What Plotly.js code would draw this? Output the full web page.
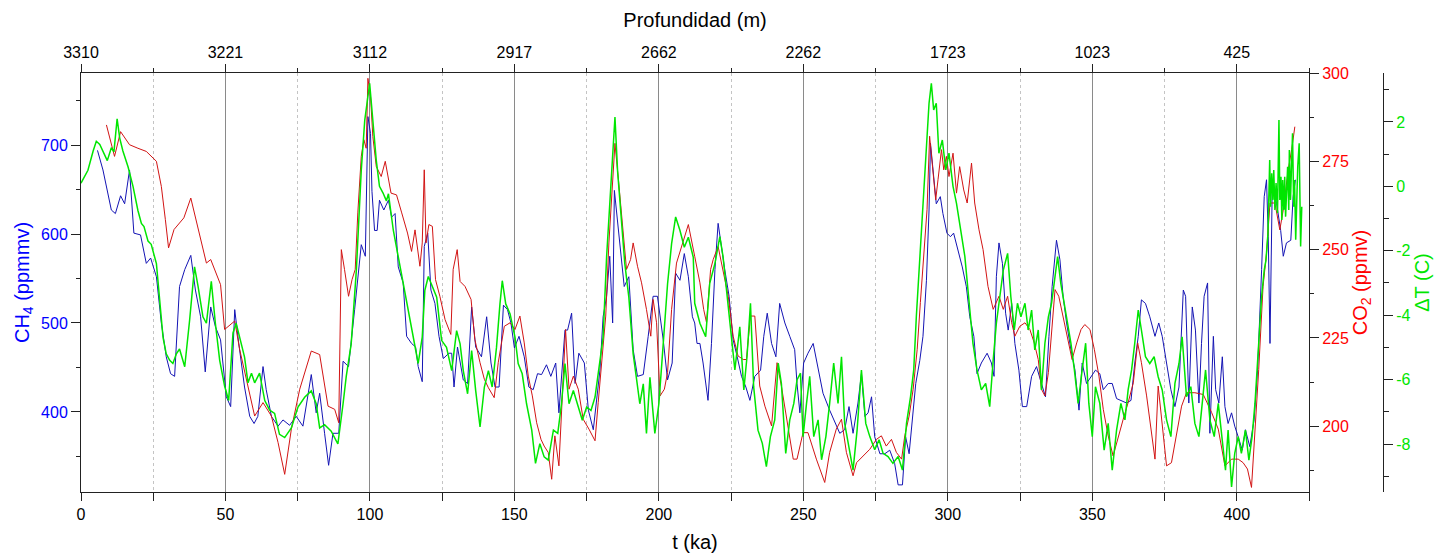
<!DOCTYPE html>
<html>
<head>
<meta charset="utf-8">
<script src="https://cdn.plot.ly/plotly-3.0.1.min.js"></script>
<style>html,body{margin:0;padding:0;background:#fff;}#chart{width:1436px;height:559px;}</style>
</head>
<body>
<div id="chart"></div>
<script>
// ---- Data ----
const ch4_t = [5.7,7.6,10.5,11.9,13.7,15.1,16.8,18.3,20.6,22.6,24.1,26.1,27.8,29.5,31,32.4,34.1,35.9,38,39.6,41.4,43,44.9,46.5,48.3,50.3,51.8,53.2,54.6,56.6,58.4,59.9,61.2,63,64.1,65.9,68.2,69.9,72.2,74.5,76.8,79.7,81.4,82.6,84.3,85.7,87.2,89.2,90.7,92.6,94.7,97,98.4,99.3,100.2,100.7,101.6,102.5,103.3,104.8,106.4,107.5,108.7,109.8,111.5,112.7,114.4,115.8,116.7,118.1,118.8,120,121.1,122.5,123.9,125.4,127.3,128.3,129.1,130.3,132.3,133.8,135.2,136.6,138.6,140.4,141.9,143.3,144.7,146.2,147.6,148.8,150,151.6,153.4,155,156.5,158,159.4,161.1,162.6,164.3,165.4,167.5,168.4,169.8,171,172.3,174.2,175.6,177.3,178.4,179.6,180.7,181.9,183,184,184.6,185.7,187.1,188,189.6,191.1,192.6,194.6,196.3,198,199.5,201.5,203,204.6,205.8,207.3,208.8,210.2,211.6,212.4,213.2,214.2,215.3,217,218.2,219.4,220.5,221.7,222.8,224.3,225.7,227.1,228.6,230.1,231.5,233.2,235.2,236.3,237.5,239,240.5,241.8,243.6,245.3,247,247.8,248.8,250.1,251.6,253.4,255.1,256.8,259.1,261.2,262.6,264.3,265.8,267.2,268.9,270.1,271.3,272.4,273.6,274.7,276.5,278.2,279.9,281.6,282.8,284.3,285.4,286.6,287.7,288.9,290.3,291.4,292.6,293.5,294,294.9,296,297.4,298.3,299.7,300.9,302,303.5,305,306.4,307.6,309,310.1,311.6,313.6,315.1,316,316.8,317.7,318.9,320,320.9,322.1,323.2,324.6,325.8,327.3,329,330.7,332.4,333.8,335,336.1,337.6,338.8,339.9,341.1,342.6,344,345.4,346.5,348,349.7,351.1,352.6,353.8,355.5,356.9,358.4,360.1,361.9,363.4,364.7,365.9,367,368.4,369.9,371.7,373,374.2,375.7,377.2,378.6,380,381.5,382.3,383.4,384.6,385.7,386.9,387.8,388.7,389.9,390.7,391.9,392.7,393.8,395,395.9,397,398.2,399.3,400.5,401.9,403,404.5,406,407.2,408.6,409.5,410.3,410.9,411.5,412.3,413.8,415.2,416.1,417.2,418.7,419.5,420.3];
const ch4 = [694,672,627,623,643,634,672,601,599,567,573,552,500,462,443,440,541,560,576,537,507,445,518,496,481,417,406,515,477,428,395,387,395,451,425,395,384,391,385,395,384,442,399,421,376,340,376,376,457,451,515,588,575,732,713,648,604,604,638,627,638,619,623,563,545,485,477,473,451,434,586,601,537,522,485,460,466,466,428,473,436,432,518,473,462,507,455,428,428,520,515,500,472,485,462,428,425,443,442,453,440,455,399,492,492,511,432,466,455,402,380,410,447,507,530,575,500,649,616,567,541,552,470,440,442,485,530,530,481,436,455,556,548,578,552,507,500,477,477,455,413,477,560,612,582,560,530,481,462,440,428,413,440,447,485,511,477,462,522,500,485,470,432,399,455,466,477,447,421,402,387,376,380,406,376,410,443,395,399,417,372,353,353,357,342,318,318,372,353,391,432,458,485,548,627,702,672,634,642,623,601,597,601,582,563,541,507,485,443,455,466,455,440,552,590,567,511,492,522,477,447,406,406,440,451,432,417,485,541,593,571,530,500,470,447,402,455,432,440,447,443,425,432,432,415,413,410,413,455,485,526,522,507,485,500,485,455,425,406,428,537,530,410,518,492,410,477,530,545,376,485,425,410,462,406,387,399,384,372,357,380,361,391,447,560,642,661,597,477,657,634,604,575,590,593,642,661];

const co2_t = [8.8,11.6,13.7,16.8,19.7,22.6,26.1,27.8,29.2,30.3,32.2,35.6,38,40.5,43.4,44.9,48.3,49.7,53.2,54.9,57.2,60.1,63,65.9,68.2,70.5,72.8,75.7,79.7,82.6,85.5,87.8,89.2,90.1,91.2,92.6,93.8,94.9,95.8,97,97.9,98.7,99.3,100.2,101,102.2,103.9,105.3,107.3,109.2,111,113,114.4,115.6,117.3,118.1,118.8,119.4,120.4,121.6,122.7,124.2,126,128,128.8,130.2,131.2,132.9,135,136.3,138.1,139.6,141,143,144.4,146.5,148.5,150.2,151.9,153.4,154.8,156.2,157.7,159.2,160.3,161.7,162.9,164,165.4,166.6,167.7,168.9,170.4,172.1,173.8,175.8,177.9,179,180.2,181.6,182.7,183.9,184.8,186,187.3,188.8,190.2,191.1,192.6,194,195.7,197.2,198,199.2,200.4,201.9,203,204.4,206.1,207.8,210.2,212.4,214.2,215.5,216.5,217.9,218.8,220.5,222.2,224,225.7,227.4,229.2,230.3,231.7,233.2,234.9,236.7,239,240.9,242.4,244.7,246.5,247.8,249.9,251.6,254.5,257.4,259.1,261.4,263.2,264.9,267.2,268.4,270.7,273,275.3,277,278.7,280.5,282.2,284,285.1,286.6,288,289.4,290.5,291.7,292.8,293.7,294.7,295.8,296.6,297.8,298.6,299.5,300.4,301.8,303,304.1,305.5,306.7,308.2,309.3,310.8,312.2,313.9,315.7,317.7,319.2,320.7,322.1,323.2,324.9,326.7,328.4,329.9,331.3,332.4,333.6,334.8,335.9,337.1,338.4,339.9,341.4,343,344.6,346.1,347.4,349.2,350.7,352.3,353.8,355.5,357.2,359,360.7,362.4,364.2,365.7,367,368.8,370.3,371.7,372.8,374.2,375.7,377.4,379.2,380.9,382.6,385.5,388.4,391.3,393.6,395.9,398.2,400.5,402.2,403.7,405.1,406.3,407.6,409.1,410.3,411.5,413.2,414.9,416.1,417.8,419,420.1];
const co2 = [285.3,276.4,283.4,279.7,278.7,277.8,275,267.9,258.5,250.5,255.7,259,264.6,255.7,246.2,247.2,240.1,227.4,229.8,221.8,213.3,202.9,206.7,202.9,195.4,186.4,199.2,210.5,221.3,220.3,205.7,204.8,201,250,244.4,236.8,241.5,244.4,260.4,276.4,281.1,278.7,298.5,293.3,282,273.5,270.7,275,266,265.5,260.4,254.7,249.5,255.6,245.3,251.9,272.6,251.9,257.1,256.6,241.5,236.8,230.2,226,244.4,250,241,239.6,235.9,224.6,218,213.3,210.9,208.1,218,228.3,229.3,227.4,231.2,223.6,214.2,208.6,201,196.3,194.4,192.6,185,197.3,188.8,211.4,227.4,210.5,214.2,210.5,202,199.2,195.9,206.7,218,231.2,251.9,267.9,280.1,269.8,257.5,244.4,247.2,251.9,245.3,240.6,233.1,225.5,235.9,229.3,208.6,210.5,215.2,233.1,246.2,250.9,257.1,248.1,240.6,233.1,229.3,244.4,247.2,250.9,244.4,236.8,225.5,219.9,218.9,218.9,231.2,231.2,211.4,205.7,200.1,218,211.4,199.2,190.7,190.7,198.2,198.2,190.7,184.1,192.6,199.2,202,192.6,186,189.7,191.6,193.5,196.3,197.3,194.4,196.3,192.6,190.7,197.3,202.9,210.5,221.8,235,248.1,261.3,282.1,272.6,264.1,269.8,278.3,272.6,276.4,270.7,277.3,266,273.5,266.9,263.2,274.5,263.2,255.6,250,239.6,233.1,236.8,233.1,236.8,229.3,225.5,228.3,229.3,227.4,223.6,218.9,210.5,208.6,215.2,225.5,238.7,236.8,231.2,225.5,218.9,223.6,227.4,228.8,227.4,221.8,214.2,204.8,197.3,191.6,197.3,202,206.7,212.3,223.6,218,208.6,199.2,190.7,211.4,201,188.8,189.7,198.2,205.7,209.5,209.5,209,203.9,199.2,188.8,190.7,190.7,189.7,187.9,182.7,197.3,216.1,239.6,249,263.2,263.2,255.6,261.3,272.6,278.3,284.8];

const dt_t = [0,2.4,4.2,5.3,6.5,9.1,10.5,11.4,12.5,13.4,14.5,16.3,18,19.7,20.9,21.8,23.2,24.3,26.1,27.2,28.4,29.5,30.7,31.8,33,34.1,35.9,37.6,39.3,40.5,42.2,43.4,45.1,46.5,48,49.7,51.1,52.6,53.7,55.5,56.6,57.8,59,60.1,61.8,63.6,65.3,67,68.7,70.5,72.8,75.1,77.4,79.7,81.4,82.6,84.3,86.6,88.9,90.7,91.8,93.5,95.3,97,98.2,99.9,101,102.2,103.3,104.5,105.7,106.4,108.1,109.8,111.5,113.3,115,116.7,118.1,119,120.2,121.3,123.1,124.8,126.5,128.3,130,131.2,132.3,133.8,135.2,136.6,138.1,139.6,141,142.3,143.8,145,145.8,147,148.5,150.2,151.3,152.7,154.2,156,157.3,158.8,160.3,161.7,163.5,165,166.3,167.5,168.9,170.4,171.9,173.5,175,176.5,177.9,179.2,180.7,181.9,183,184,184.8,185.7,186.9,188.2,189.6,191.1,192.3,193.4,194.6,195.7,196.9,198.6,200,201.5,203,204.4,205.8,207.3,208.8,210.2,211.9,212.4,214.2,216.2,217.6,219.4,221.1,222.2,223.6,225.1,226.3,228,229.4,230.5,231.7,232.8,234.3,235.8,237.2,238.6,240.1,241.3,242.4,243.9,245.3,246.7,247.8,249,249.9,251.1,252.2,253.6,255.1,256.3,257.8,259.1,260.5,262,263.2,264.3,265.8,267.2,268.6,270.1,271.6,273,274.7,276.2,277.6,279.3,281,282.8,284.3,285.7,287.1,288.2,289.1,290.3,291.4,292.6,293.5,294.3,295.1,296,296.9,298.1,299.3,300.4,301.8,303,304.4,305.9,307.4,308.7,310.1,311.6,313.1,314.5,315.7,316.8,317.7,319.2,320.7,321.8,323,324.1,325.3,326.7,327.8,329,330.1,331.3,332.4,333.6,334.8,335.9,337.1,338,339.1,340.3,341.4,342.6,343.8,345.1,346.5,347.7,348.8,350,351.1,352.6,354.1,355.5,356.9,358.4,359.9,361.3,362.4,363.6,364.7,365.9,367,368.4,369.9,371.4,372.8,374.2,375.7,377.2,378.6,380,381.1,382.6,384.1,385.5,386.9,388,389.2,390.7,392.2,393.6,395,396.1,397,398.2,399.3,400.5,401.6,403,404.2,405.3,406.3,407.4,408.6,409.5,410.1,410.8,411.1,411.4,411.7,412.1,412.5,412.8,413.2,413.6,414.1,414.6,414.9,415.3,415.6,415.9,416.3,416.6,416.9,417.3,417.6,418,418.2,418.6,418.9,419.3,419.7,420,420.4,420.8,421.1,421.6,421.9,422.1,422.5];
const dt = [0.1,0.5,1.1,1.4,1.3,0.8,1.2,1.07,2.1,1.5,1.1,0.6,0,-0.75,-1.15,-1.25,-1.7,-1.8,-2.4,-3.45,-4.7,-5.2,-5.4,-5.5,-5.2,-5.05,-5.6,-4.15,-2.5,-3.1,-4.05,-4.25,-2.95,-4.25,-5.4,-6.2,-6.65,-4.55,-4.25,-4.9,-5.3,-6.1,-5.8,-6.1,-5.8,-6.65,-6.95,-7.05,-7.7,-7.8,-7.5,-6.85,-6.55,-6.35,-6.75,-7.5,-7.4,-7.6,-8.0,-6.75,-5.9,-4.9,-2.6,0.5,2.05,3.2,2.05,0.8,0,-0.2,-0.45,-0.23,-1.37,-2.2,-3.03,-3.85,-4.68,-5.5,-4.68,-3.23,-2.8,-3.03,-3.44,-4.78,-5.0,-5.72,-4.48,-4.89,-5.72,-6.44,-5.1,-6.34,-7.47,-6.23,-5.72,-6.23,-5.0,-3.65,-2.93,-3.65,-3.96,-4.68,-5.5,-5.82,-6.75,-7.57,-8.6,-7.99,-8.4,-8.5,-7.57,-7.67,-6.75,-5.5,-6.75,-6.34,-6.75,-7.26,-6.85,-6.96,-6.54,-5.72,-4.68,-2.2,-0.54,1.32,2.15,0.49,-0.95,-2.4,-3.44,-5.2,-6.0,-6.75,-6.13,-7.67,-5.93,-7.67,-6.75,-5.0,-3.03,-1.78,-0.95,-1.37,-1.89,-1.58,-2.2,-3.63,-4.25,-4.67,-3.01,-2.39,-1.56,-2.18,-3.42,-4.67,-5.7,-4.36,-6.32,-5.29,-3.63,-6.22,-7.57,-7.98,-8.7,-7.77,-7.25,-5.49,-6.12,-8.29,-7.25,-6.74,-6.01,-5.8,-7.77,-6.74,-5.9,-7.77,-7.25,-8.49,-7.77,-6.74,-5.49,-6.74,-5.29,-7.36,-8.08,-8.81,-7.57,-5.7,-7.36,-7.77,-8.18,-7.87,-8.29,-8.39,-8.6,-8.39,-8.81,-7.36,-6.53,-5.7,-4.05,-2.18,-0.32,1.54,2.58,3.2,2.37,2.58,1.03,1.44,0.51,1.03,0,-0.53,-1.35,-2.18,-3.63,-4.88,-5.7,-6.32,-6.12,-6.84,-5.39,-4.25,-3.63,-2.6,-2.08,-3.42,-4.46,-3.63,-4.05,-3.63,-4.46,-3.84,-5.08,-4.46,-6.32,-4.87,-4.05,-3.63,-2.8,-2.18,-3.01,-3.63,-4.25,-4.87,-5.7,-6.74,-5.7,-4.87,-6.74,-7.77,-6.22,-6.74,-8.19,-7.36,-8.81,-7.57,-6.74,-7.25,-6.32,-5.7,-4.87,-3.84,-4.46,-5.29,-5.5,-5.29,-5.91,-6.32,-7.25,-7.77,-6.12,-5.5,-4.67,-6.53,-6.22,-7.36,-7.77,-6.74,-5.7,-7.25,-7.77,-6.74,-7.98,-8.81,-7.57,-9.33,-8.29,-7.77,-8.29,-7.57,-8.5,-7.77,-6.74,-5.18,-3.42,-2.6,-2.3,-1.46,-0.42,0.82,-0.63,0.41,-0.42,0.51,-0.73,0.1,-0.83,2.06,-0.42,0.3,-1.04,0.2,-0.73,0.3,-0.94,-0.01,0.61,-0.73,1.13,-0.42,0.41,1.65,-0.63,0.2,-1.66,-0.01,0.61,1.34,-0.42,-1.87,-0.63];

// ---- Tick labels ----
const xTicks = [0,50,100,150,200,250,300,350,400];
const xMinor = [25,75,125,175,225,275,325,375,425];
const depthLabels = ['3310','3221','3112','2917','2662','2262','1723','1023','425'];
const dtTicks = [-8,-6,-4,-2,0,2];
const dtTickText = ['-8','-6','-4','-2','0','2'];

const FONT = 'Liberation Sans, Arial, Helvetica, sans-serif';
const AX = '#222222';
const BLUE = '#0000ff', RED = '#ff0000', GREEN = '#00e600';

const traces = [
  // invisible carrier so that the top (depth) axis is drawn
  {x: ch4_t, y: ch4, xaxis: 'x2', yaxis: 'y', type: 'scatter', mode: 'lines',
   line: {color: 'rgba(0,0,0,0)', width: 0}, opacity: 0, hoverinfo: 'skip', showlegend: false},
  {x: ch4_t, y: ch4, xaxis: 'x', yaxis: 'y', type: 'scatter', mode: 'lines', name: 'CH4',
   line: {color: '#1414b4', width: 1}, hoverinfo: 'x+y'},
  {x: dt_t, y: dt, xaxis: 'x', yaxis: 'y3', type: 'scatter', mode: 'lines', name: 'ΔT',
   line: {color: '#00e600', width: 1.5}, hoverinfo: 'x+y'},
  {x: co2_t, y: co2, xaxis: 'x', yaxis: 'y2', type: 'scatter', mode: 'lines', name: 'CO2',
   line: {color: '#d21414', width: 1}, hoverinfo: 'x+y'}
];

const xDom = [0, 1228/1302];

const layout = {
  width: 1436, height: 559,
  margin: {l: 81, r: 53, t: 73, b: 67, pad: 0},
  paper_bgcolor: '#ffffff', plot_bgcolor: '#ffffff',
  showlegend: false,
  font: {family: FONT, size: 16, color: '#000'},
  xaxis: {
    domain: xDom, range: [0, 425], tickmode: 'array', tickvals: xTicks,
    ticks: 'outside', ticklen: 8, tickcolor: AX, tickwidth: 1,
    showline: true, linecolor: AX, linewidth: 1, zeroline: false,
    showgrid: true, gridcolor: '#8a8a8a', gridwidth: 1,
    minor: {tickmode: 'array', tickvals: xMinor, ticks: 'outside', ticklen: 8, tickcolor: AX,
            showgrid: true, gridcolor: '#c4c4c4', griddash: 'dot', gridwidth: 1},
    tickfont: {size: 16, color: '#000'},
    title: {text: 't (ka)', font: {size: 20, color: '#000'}, standoff: 12},
    automargin: false
  },
  xaxis2: {
    overlaying: 'x', side: 'top', anchor: 'y', domain: xDom, range: [0, 425],
    tickmode: 'array', tickvals: xTicks, ticktext: depthLabels,
    ticks: 'outside', ticklen: 8, tickcolor: AX,
    minor: {tickmode: 'array', tickvals: xMinor, ticks: 'outside', ticklen: 4, tickcolor: AX, showgrid: false},
    showline: true, linecolor: AX, linewidth: 1, showgrid: false, zeroline: false,
    tickfont: {size: 16, color: '#000'},
    title: {text: 'Profundidad (m)', font: {size: 20, color: '#000'}, standoff: 10},
    automargin: false
  },
  yaxis: {
    range: [310, 781], tickmode: 'linear', tick0: 0, dtick: 100,
    ticks: 'outside', ticklen: 9, tickcolor: AX,
    minor: {tickmode: 'linear', tick0: 0, dtick: 50, ticks: 'outside', ticklen: 4, tickcolor: AX, showgrid: false},
    showline: true, linecolor: AX, linewidth: 1, showgrid: false, zeroline: false,
    tickfont: {size: 16, color: BLUE},
    title: {text: 'CH<sub>4</sub> (ppmmv)', font: {size: 20, color: BLUE}, standoff: 6},
    automargin: false
  },
  yaxis2: {
    overlaying: 'y', side: 'right', anchor: 'x', range: [181.4, 300],
    tickmode: 'linear', tick0: 0, dtick: 25,
    ticks: 'outside', ticklen: 9, tickcolor: AX,
    minor: {tickmode: 'linear', tick0: 0, dtick: 12.5, ticks: 'outside', ticklen: 4, tickcolor: AX, showgrid: false},
    showline: true, linecolor: AX, linewidth: 1, showgrid: false, zeroline: false,
    tickfont: {size: 16, color: RED},
    title: {text: 'CO<sub>2</sub> (ppmv)', font: {size: 20, color: RED}, standoff: 4},
    automargin: false
  },
  yaxis3: {
    overlaying: 'y', side: 'right', anchor: 'free', position: 1, range: [-9.49, 3.52],
    tickmode: 'array', tickvals: dtTicks, ticktext: dtTickText,
    ticks: 'outside', ticklen: 9, tickcolor: AX,
    minor: {tickmode: 'linear', tick0: 1, dtick: 2, ticks: 'outside', ticklen: 5, tickcolor: AX, showgrid: false},
    showline: true, linecolor: AX, linewidth: 1, showgrid: false, zeroline: false,
    tickfont: {size: 16, color: GREEN},
    title: {text: 'ΔT (C)', font: {size: 20, color: GREEN}, standoff: 4},
    automargin: false
  }
};

Plotly.newPlot('chart', traces, layout, {displayModeBar: false, staticPlot: false});
</script>
</body>
</html>
